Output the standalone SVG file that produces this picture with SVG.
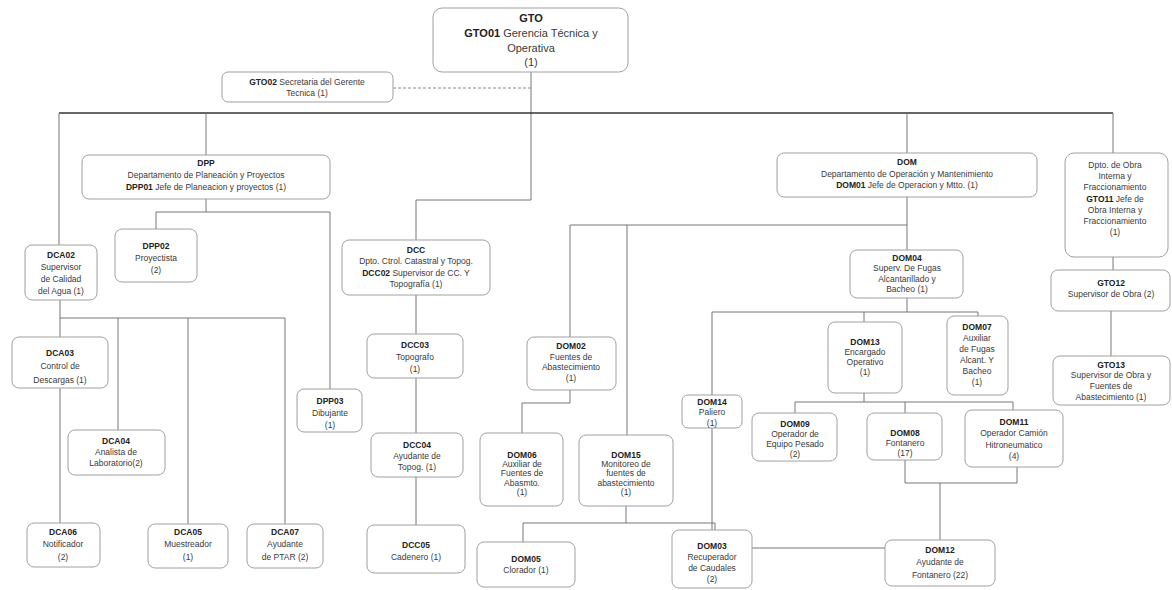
<svg xmlns="http://www.w3.org/2000/svg" width="1172" height="590" viewBox="0 0 1172 590">
<style>
.bx{fill:#fff;stroke:#a0a0a0;stroke-width:1}
.t{font-family:"Liberation Sans",Arial,sans-serif;font-size:8.5px;fill:#3a3a3a;text-anchor:middle}
.b{font-weight:bold;fill:#222}
.g{font-size:11px}
.c{fill:none;stroke:#777;stroke-width:1}
.d{fill:none;stroke:#333;stroke-width:1.5}
.s{fill:none;stroke:#888;stroke-width:1;stroke-dasharray:3 2}
</style>
<rect width="1172" height="590" fill="#fff"/>
<g id="connectors">
<path class="c" d="M531 72V200H416V240"/>
<path class="s" d="M393 88H531"/>
<path class="d" d="M59 113H1113"/>
<path class="c" d="M59 113V245M206 113V155M907 113V153M1113 113V153"/>
<path class="c" d="M206 199V212M156 212H330M156 212V229M330 212V389"/>
<path class="c" d="M60 300V337M60 388V523M60 318H285M118 318V430M188 318V524M285 318V524"/>
<path class="c" d="M416 295V334M416 378V433M416 477V525"/>
<path class="c" d="M907 197V250M570 225H907M570 225V337M627 225V435"/>
<path class="c" d="M570 390V403H522V433"/>
<path class="c" d="M626 506V523M523 523H715M523 523V542M715 523V530"/>
<path class="c" d="M907 298V312M712 312H978M864 312V322M978 312V316M712 312V395M712 428V548H885"/>
<path class="c" d="M864 393V402M795 402H1013M795 402V413M905 402V413M1013 402V410"/>
<path class="c" d="M905 460V483M1017 467V483M905 483H1017M940 483V540"/>
<path class="c" d="M1113 257V270M1111 311V356"/>
</g>
<g id="GTO"><rect class="bx" x="433" y="8" width="195" height="64" rx="9"/>
<text class="t g b" x="531" y="22">GTO</text>
<text class="t g" x="531" y="37"><tspan class="b">GTO01</tspan> Gerencia Técnica  y</text>
<text class="t g" x="531" y="52">Operativa</text>
<text class="t g" x="531" y="66">(1)</text></g>
<g id="GTO02"><rect class="bx" x="222" y="72" width="171" height="30" rx="6"/>
<text class="t" x="307" y="85"><tspan class="b">GTO02</tspan> Secretaria del  Gerente</text>
<text class="t" x="307" y="96">Tecnica (1)</text></g>
<g id="DPP"><rect class="bx" x="82" y="155" width="248" height="44" rx="7"/>
<text class="t b" x="206" y="166">DPP</text>
<text class="t" x="206" y="178">Departamento de Planeación y Proyectos</text>
<text class="t" x="206" y="190"><tspan class="b">DPP01</tspan> Jefe de Planeacion y proyectos (1)</text></g>
<g id="DPP02"><rect class="bx" x="115" y="229" width="82" height="53" rx="7"/>
<text class="t b" x="156" y="249">DPP02</text>
<text class="t" x="156" y="261">Proyectista</text>
<text class="t" x="156" y="273">(2)</text></g>
<g id="DCA02"><rect class="bx" x="25" y="245" width="72" height="55" rx="7"/>
<text class="t b" x="61" y="258">DCA02</text>
<text class="t" x="61" y="270">Supervisor</text>
<text class="t" x="61" y="282">de Calidad</text>
<text class="t" x="61" y="294">del Agua (1)</text></g>
<g id="DCC"><rect class="bx" x="342" y="240" width="148" height="55" rx="7"/>
<text class="t b" x="416" y="253">DCC</text>
<text class="t" x="416" y="264">Dpto. Ctrol. Catastral y Topog.</text>
<text class="t" x="416" y="276"><tspan class="b">DCC02</tspan> Supervisor de CC. Y</text>
<text class="t" x="416" y="287">Topografía (1)</text></g>
<g id="DCC03"><rect class="bx" x="367" y="334" width="96" height="44" rx="7"/>
<text class="t b" x="415" y="348">DCC03</text>
<text class="t" x="415" y="360">Topografo</text>
<text class="t" x="415" y="372">(1)</text></g>
<g id="DPP03"><rect class="bx" x="297" y="389" width="65" height="43" rx="7"/>
<text class="t b" x="330" y="404">DPP03</text>
<text class="t" x="330" y="416">Dibujante</text>
<text class="t" x="330" y="428">(1)</text></g>
<g id="DCC04"><rect class="bx" x="371" y="433" width="92" height="44" rx="7"/>
<text class="t b" x="417" y="448">DCC04</text>
<text class="t" x="417" y="459">Ayudante de</text>
<text class="t" x="417" y="470">Topog. (1)</text></g>
<g id="DCC05"><rect class="bx" x="367" y="525" width="98" height="48" rx="7"/>
<text class="t b" x="416" y="548">DCC05</text>
<text class="t" x="416" y="560">Cadenero (1)</text></g>
<g id="DCA03"><rect class="bx" x="12" y="337" width="96" height="51" rx="7"/>
<text class="t b" x="60" y="356">DCA03</text>
<text class="t" x="60" y="369">Control de</text>
<text class="t" x="60" y="383">Descargas (1)</text></g>
<g id="DCA04"><rect class="bx" x="68" y="430" width="97" height="45" rx="7"/>
<text class="t b" x="116" y="444">DCA04</text>
<text class="t" x="116" y="455">Analista de</text>
<text class="t" x="116" y="466">Laboratorio(2)</text></g>
<g id="DCA06"><rect class="bx" x="27" y="523" width="73" height="44" rx="7"/>
<text class="t b" x="63" y="535">DCA06</text>
<text class="t" x="63" y="547">Notificador</text>
<text class="t" x="63" y="560">(2)</text></g>
<g id="DCA05"><rect class="bx" x="148" y="524" width="80" height="44" rx="7"/>
<text class="t b" x="188" y="535">DCA05</text>
<text class="t" x="188" y="547">Muestreador</text>
<text class="t" x="188" y="560">(1)</text></g>
<g id="DCA07"><rect class="bx" x="247" y="524" width="76" height="44" rx="7"/>
<text class="t b" x="285" y="535">DCA07</text>
<text class="t" x="285" y="547">Ayudante</text>
<text class="t" x="285" y="560">de PTAR (2)</text></g>
<g id="DOM02"><rect class="bx" x="527" y="337" width="89" height="53" rx="7"/>
<text class="t b" x="571" y="349">DOM02</text>
<text class="t" x="571" y="360">Fuentes de</text>
<text class="t" x="571" y="370">Abastecimiento</text>
<text class="t" x="571" y="381">(1)</text></g>
<g id="DOM06"><rect class="bx" x="480" y="433" width="83" height="73" rx="7"/>
<text class="t b" x="522" y="458">DOM06</text>
<text class="t" x="522" y="467">Auxiliar de</text>
<text class="t" x="522" y="476">Fuentes de</text>
<text class="t" x="522" y="486">Abasmto.</text>
<text class="t" x="522" y="495">(1)</text></g>
<g id="DOM15"><rect class="bx" x="579" y="435" width="94" height="71" rx="7"/>
<text class="t b" x="626" y="458">DOM15</text>
<text class="t" x="626" y="467">Monitoreo de</text>
<text class="t" x="626" y="476">fuentes de</text>
<text class="t" x="626" y="486">abastecimiento</text>
<text class="t" x="626" y="495">(1)</text></g>
<g id="DOM05"><rect class="bx" x="477" y="542" width="98" height="45" rx="7"/>
<text class="t b" x="526" y="562">DOM05</text>
<text class="t" x="526" y="573">Clorador (1)</text></g>
<g id="DOM03"><rect class="bx" x="672" y="530" width="80" height="58" rx="7"/>
<text class="t b" x="712" y="549">DOM03</text>
<text class="t" x="712" y="560">Recuperador</text>
<text class="t" x="712" y="571">de Caudales</text>
<text class="t" x="712" y="582">(2)</text></g>
<g id="DOM"><rect class="bx" x="777" y="153" width="260" height="44" rx="7"/>
<text class="t b" x="907" y="165">DOM</text>
<text class="t" x="907" y="177">Departamento de Operación y Mantenimiento</text>
<text class="t" x="907" y="188"><tspan class="b">DOM01</tspan> Jefe de Operacion y Mtto. (1)</text></g>
<g id="GTO11"><rect class="bx" x="1065" y="153" width="103" height="104" rx="9"/>
<text class="t" x="1115" y="168">Dpto. de Obra</text>
<text class="t" x="1115" y="179">Interna y</text>
<text class="t" x="1115" y="190">Fraccionamiento</text>
<text class="t" x="1115" y="202"><tspan class="b">GTO11</tspan> Jefe de</text>
<text class="t" x="1115" y="213">Obra Interna y</text>
<text class="t" x="1115" y="224">Fraccionamiento</text>
<text class="t" x="1115" y="235">(1)</text></g>
<g id="DOM04"><rect class="bx" x="850" y="250" width="113" height="48" rx="7"/>
<text class="t b" x="907" y="261">DOM04</text>
<text class="t" x="907" y="271">Superv. De Fugas</text>
<text class="t" x="907" y="282">Alcantarillado y</text>
<text class="t" x="907" y="292">Bacheo (1)</text></g>
<g id="GTO12"><rect class="bx" x="1051" y="270" width="119" height="41" rx="7"/>
<text class="t b" x="1111" y="286">GTO12</text>
<text class="t" x="1111" y="297">Supervisor de Obra (2)</text></g>
<g id="GTO13"><rect class="bx" x="1053" y="356" width="117" height="49" rx="7"/>
<text class="t b" x="1111" y="368">GTO13</text>
<text class="t" x="1111" y="378">Supervisor de Obra y</text>
<text class="t" x="1111" y="389">Fuentes de</text>
<text class="t" x="1111" y="400">Abastecimiento (1)</text></g>
<g id="DOM07"><rect class="bx" x="947" y="316" width="61" height="79" rx="7"/>
<text class="t b" x="977" y="330">DOM07</text>
<text class="t" x="977" y="341">Auxiliar</text>
<text class="t" x="977" y="352">de Fugas</text>
<text class="t" x="977" y="363">Alcant. Y</text>
<text class="t" x="977" y="374">Bacheo</text>
<text class="t" x="977" y="385">(1)</text></g>
<g id="DOM13"><rect class="bx" x="828" y="322" width="74" height="71" rx="7"/>
<text class="t b" x="865" y="345">DOM13</text>
<text class="t" x="865" y="355">Encargado</text>
<text class="t" x="865" y="365">Operativo</text>
<text class="t" x="865" y="375">(1)</text></g>
<g id="DOM14"><rect class="bx" x="682" y="395" width="60" height="33" rx="6"/>
<text class="t b" x="712" y="405">DOM14</text>
<text class="t" x="712" y="415">Paliero</text>
<text class="t" x="712" y="426">(1)</text></g>
<g id="DOM09"><rect class="bx" x="752" y="413" width="85" height="48" rx="7"/>
<text class="t b" x="795" y="427">DOM09</text>
<text class="t" x="795" y="437">Operador de</text>
<text class="t" x="795" y="447">Equipo Pesado</text>
<text class="t" x="795" y="457">(2)</text></g>
<g id="DOM08"><rect class="bx" x="867" y="413" width="75" height="47" rx="7"/>
<text class="t b" x="905" y="436">DOM08</text>
<text class="t" x="905" y="446">Fontanero</text>
<text class="t" x="905" y="456">(17)</text></g>
<g id="DOM11"><rect class="bx" x="965" y="410" width="98" height="57" rx="7"/>
<text class="t b" x="1014" y="425">DOM11</text>
<text class="t" x="1014" y="436">Operador Camión</text>
<text class="t" x="1014" y="448">Hitroneumatico</text>
<text class="t" x="1014" y="459">(4)</text></g>
<g id="DOM12"><rect class="bx" x="885" y="540" width="110" height="46" rx="7"/>
<text class="t b" x="940" y="553">DOM12</text>
<text class="t" x="940" y="565">Ayudante de</text>
<text class="t" x="940" y="578">Fontanero (22)</text></g>
</svg>
